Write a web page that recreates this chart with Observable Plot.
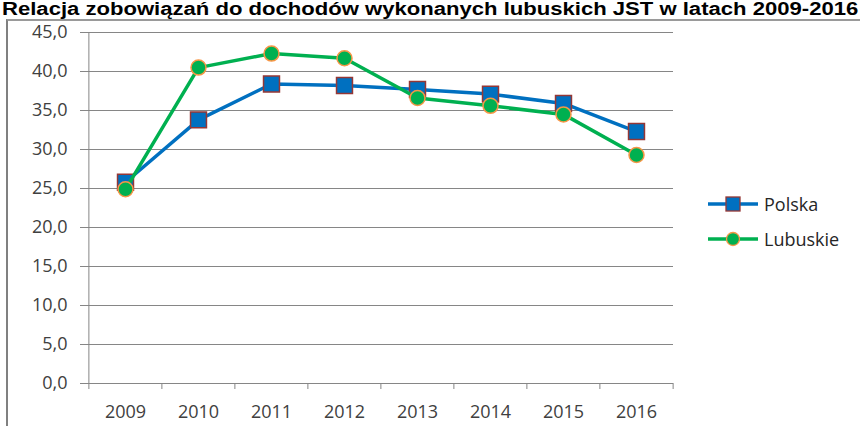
<!DOCTYPE html>
<html><head><meta charset="utf-8">
<script src="https://cdn.jsdelivr.net/npm/d3@7"></script>
<script src="https://cdn.jsdelivr.net/npm/@observablehq/plot@0.6"></script>
<style>
body{margin:0;background:#fff;}
#wrap{position:relative;width:860px;height:426px;overflow:hidden;background:#fff;}
#border{position:absolute;left:6px;top:19px;width:900px;height:500px;border-left:2px solid #808080;border-top:2px solid #9a9a9a;}
#chart{position:absolute;left:0;top:0;}
#title{position:absolute;top:0px;left:2px;white-space:nowrap;font:bold 18px/18px "Liberation Sans",Arial,sans-serif;color:#000;transform-origin:0 0;}
.lg{position:absolute;left:707px;display:flex;align-items:center;font:18px "Open Sans",sans-serif;color:#262626;}
.lg svg{display:block;margin-right:5px;}
</style></head><body>
<div id="wrap">
 <div id="border"></div>
 <div id="chart"></div>
 <div id="title">Relacja zobowiązań do dochodów wykonanych lubuskich JST w latach 2009-2016</div>
 <div id="legend"></div>
</div>
<script>
const years = ["2009","2010","2011","2012","2013","2014","2015","2016"];
const polska = [25.8, 33.8, 38.4, 38.2, 37.7, 37.1, 35.9, 32.3];
const lubuskie = [24.9, 40.5, 42.3, 41.7, 36.6, 35.6, 34.5, 29.3];
const yTicks = [0, 5, 10, 15, 20, 25, 30, 35, 40, 45];
const seriesNames = ["Polska", "Lubuskie"];

const pData = years.map((y, i) => ({year: y, value: polska[i]}));
const lData = years.map((y, i) => ({year: y, value: lubuskie[i]}));

const W = 860, H = 426, mL = 87, mR = 187, mT = 32, mB = 43;
const step = (W - mL - mR) / years.length;
const gray = "#868686";
const colP = "#0070C0", colPS = "#953735";
const colL = "#00B050", colLS = "#F79646";

const chart = Plot.plot({
  width: W, height: H,
  marginLeft: mL, marginRight: mR, marginTop: mT, marginBottom: mB,
  style: {fontFamily: "'Open Sans',sans-serif", fontSize: "18px", color: "#404040", background: "transparent"},
  x: {type: "point", domain: years, padding: 0.5, label: null},
  y: {domain: [0, 45], label: null},
  marks: [
    Plot.gridY(yTicks, {stroke: gray, strokeOpacity: 1, strokeWidth: 1}),
    Plot.axisY(yTicks, {tickSize: 7, tickPadding: 13, stroke: gray, label: null,
      tickFormat: d => d.toFixed(1).replace(".", ",")}),
    Plot.axisX(years, {tickSize: 0, tickPadding: 22, label: null}),
    Plot.axisX(years, {tickSize: 6, dx: -step / 2, text: null, stroke: gray, label: null}),
    Plot.axisX([years[years.length - 1]], {tickSize: 6, dx: step / 2, text: null, stroke: gray, label: null}),
    Plot.ruleY([0], {stroke: gray}),
    Plot.ruleX([years[0]], {y1: 0, y2: 45, dx: -step / 2, stroke: gray}),
    Plot.line(pData, {x: "year", y: "value", stroke: colP, strokeWidth: 3.5}),
    Plot.dot(pData, {x: "year", y: "value", symbol: "square", r: 9, fill: colP, stroke: colPS, strokeWidth: 1.5}),
    Plot.line(lData, {x: "year", y: "value", stroke: colL, strokeWidth: 3.5}),
    Plot.dot(lData, {x: "year", y: "value", symbol: "circle", r: 7.5, fill: colL, stroke: colLS, strokeWidth: 1.5})
  ]
});
document.getElementById("chart").appendChild(chart);

// stretch the title to span the page width like the reference
const title = document.getElementById("title");
title.style.transform = `scaleX(${856 / title.offsetWidth})`;

const legend = document.getElementById("legend");
const styles = [
  {name: seriesNames[0], line: colP, fill: colP, stroke: colPS, shape: "square", top: 192},
  {name: seriesNames[1], line: colL, fill: colL, stroke: colLS, shape: "circle", top: 227}
];
for (const s of styles) {
  const div = document.createElement("div");
  div.className = "lg";
  div.style.top = s.top + "px";
  const marker = s.shape === "square"
    ? `<rect x="19" y="5" width="14" height="14" fill="${s.fill}" stroke="${s.stroke}" stroke-width="1.3"/>`
    : `<circle cx="26" cy="12" r="6.5" fill="${s.fill}" stroke="${s.stroke}" stroke-width="1.3"/>`;
  div.innerHTML = `<svg width="52" height="24"><line x1="1" y1="12" x2="51" y2="12" stroke="${s.line}" stroke-width="3.5"/>${marker}</svg><span>${s.name}</span>`;
  legend.appendChild(div);
}
</script>
</body></html>
